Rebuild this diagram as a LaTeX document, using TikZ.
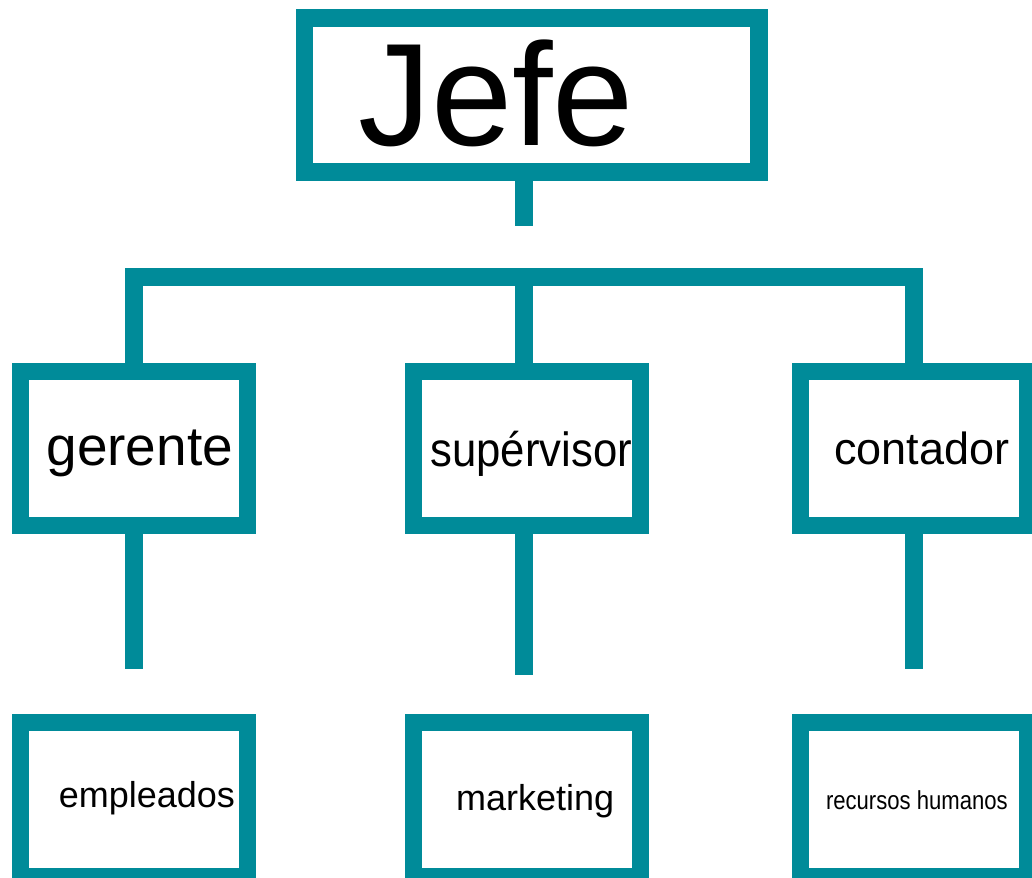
\documentclass[tikz,border=0pt]{standalone}
\usepackage{fontspec}
\setmainfont{Liberation Sans}
\usepackage{graphicx}
\usetikzlibrary{calc}
\definecolor{org_teal}{RGB}{0, 139, 153}
\tikzstyle{box}=[rectangle,draw=org_teal,line width=17.5pt,
  minimum width=227pt,minimum height=154pt,inner sep=0pt]
\tikzstyle{link}=[draw=org_teal,line width=17.5pt]
\tikzstyle{lbl}=[anchor=base west,inner sep=0pt,text=black]
\begin{document}
\begin{tikzpicture}[x=1pt,y=-1pt]
    \useasboundingbox (0,0) rectangle (1032,877);
    \node [style=box,minimum width=454.5pt] (jefe) at (531.75,95) {};
    \node [style=box] (ger) at (134,448.4) {};
    \node [style=box] (sup) at (527.2,448.4) {};
    \node [style=box] (con) at (914,448.4) {};
    \node [style=box] (emp) at (134,799.6) {};
    \node [style=box] (mkt) at (527.2,799.6) {};
    \node [style=box] (rh) at (914,799.6) {};
    \coordinate (j0) at (524,225.7);
    \coordinate (bar) at (524,277);
    \coordinate (g0) at (134,669.3);
    \coordinate (s0) at (524,675);
    \coordinate (c0) at (914,669.3);
    \draw [style=link] (jefe.south -| j0) to (j0);
    \draw [style=link] (ger.north) |- (bar) -| (con.north);
    \draw [style=link] (bar) to (bar |- sup.north);
    \draw [style=link] (ger.south -| g0) to (g0);
    \draw [style=link] (sup.south -| s0) to (s0);
    \draw [style=link] (con.south -| c0) to (c0);
    \node [style=lbl,font=\fontsize{146}{146}\selectfont] (t0) at (357.9,145.7) {Jefe};
    \node [style=lbl,font=\fontsize{55}{55}\selectfont] (t1) at (46.3,465) {gerente};
    \node [style=lbl,font=\fontsize{48}{48}\selectfont] (t2) at (430.3,466) {\scalebox{0.91}[1]{supérvisor}};
    \node [style=lbl,font=\fontsize{45}{45}\selectfont] (t3) at (834.2,464) {contador};
    \node [style=lbl,font=\fontsize{36}{36}\selectfont] (t4) at (58.6,807) {empleados};
    \node [style=lbl,font=\fontsize{36}{36}\selectfont] (t5) at (455.9,810) {marketing};
    \node [style=lbl,font=\fontsize{26}{26}\selectfont] (t6) at (825.8,809.3) {\scalebox{0.85}[1]{recursos humanos}};
\end{tikzpicture}
\end{document}
